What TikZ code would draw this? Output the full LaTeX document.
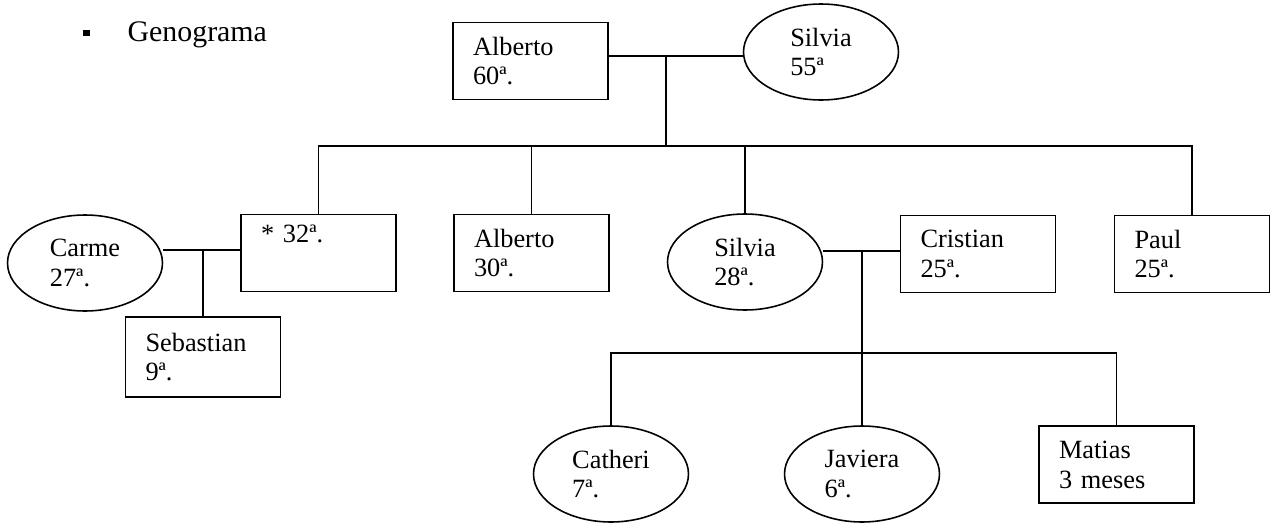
\documentclass[tikz,border=0pt]{standalone}
\usepackage{fontspec}
\setmainfont{Liberation Serif}
\usetikzlibrary{shapes.geometric}

\begin{document}
\begin{tikzpicture}[x=0.02cm, y=-0.02cm, line width=0.9pt,
		font=\fontsize{15}{17}\selectfont,
		hombre/.style={draw, rectangle, text width=2.3cm, inner xsep=0.4cm, inner ysep=0, minimum height=1.54cm, align=left},
		mujer/.style={draw, ellipse, minimum width=3.1cm, minimum height=1.92cm, inner sep=0, align=left}]
			\useasboundingbox (0,0) rectangle (1275,524);
			\node[fill, inner sep=0, minimum size=0.14cm] at(86,33) (vineta) {};
			\node[anchor=west, font=\fontsize{17}{20}\selectfont] at(121,35) (titulo) {Genograma};
			
			\node[hombre] at(530.5,61) (alb60) {Alberto\\60ª.};
			\node[mujer] at(821,52) (sil55) {Silvia\\55ª};
			
			\node[mujer] at(85,263) (carme) {Carme\\27ª.};
			\node[hombre] at(318.5,253) (p32) {* 32ª.\\ \strut};
			\node[hombre, minimum height=1.6cm] at(203,357) (seb) {Sebastian\\9ª.};
			\node[hombre] at(531.5,253) (alb30) {Alberto\\30ª.};
			\node[mujer] at(745,262) (sil28) {Silvia\\28ª.};
			\node[hombre] at(978,254) (cris) {Cristian\\25ª.};
			\node[hombre] at(1192,254) (paul) {Paul\\25ª.};
			
			\node[mujer] at(611,474) (cath) {Catheri\\7ª.};
			\node[mujer] at(862,474) (jav) {Javiera\\6ª.};
			\node[hombre] at(1116.5,464.5) (mat) {Matias\\3 meses};
			
			\coordinate (m1) at(666,56);
			\coordinate (s1) at(666,146);
			\coordinate (m2) at(203,250);
			\coordinate (m3) at(862,251);
			\coordinate (s2) at(862,353);
			
			\draw (alb60.east |- m1) -- (m1) -- (sil55.west |- m1);
			\draw (m1) -- (s1);
			\draw (p32.north) |- (s1) -| (paul.north);
			\draw (alb30.north) -- (alb30.north |- s1);
			\draw (sil28.north) -- (sil28.north |- s1);
			
			\draw (carme.east |- m2) -- (p32.west |- m2);
			\draw (m2) -- (seb.north);
			
			\draw (sil28.east |- m3) -- (cris.west |- m3);
			\draw (m3) -- (s2);
			\draw (cath.north) |- (s2) -| (mat.north);
			\draw (jav.north) -- (s2);
\end{tikzpicture}
\end{document}
